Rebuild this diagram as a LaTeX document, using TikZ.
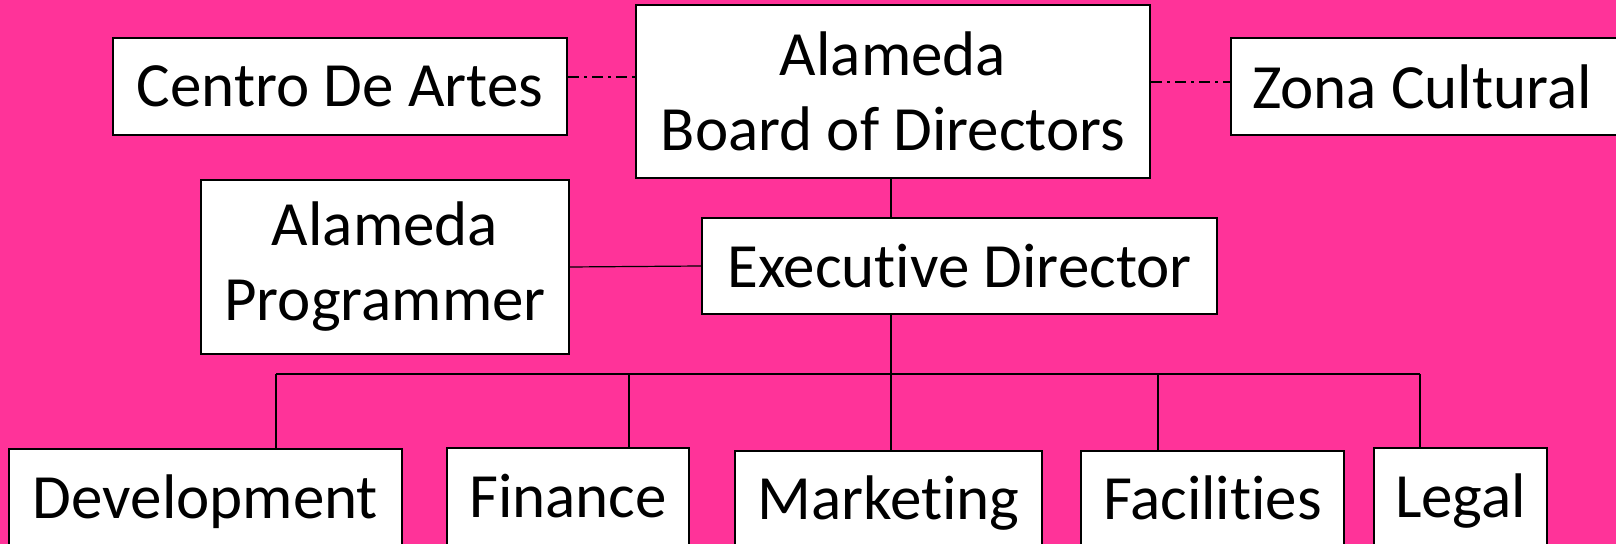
\documentclass[tikz,border=0pt]{standalone}
\usepackage{fontspec}
\setmainfont{Carlito}[Ligatures=NoCommon]
\definecolor{bgpink}{HTML}{FF3399}
\begin{document}
\begin{tikzpicture}[x=0.5pt,y=-0.5pt,
  box/.style={draw=black,fill=white,line width=1pt,inner sep=0pt,align=center,
    font=\fontsize{31.5}{37.5}\selectfont},
  lowbox/.style={box,anchor=north,minimum height=49pt,text height=20pt,text depth=0pt},
  link/.style={draw=black,line width=0.6pt},
  dashdot/.style={link,line width=1pt,dash pattern=on 5.5pt off 2.5pt on 1.5pt off 2.5pt}]
\useasboundingbox (0,0) rectangle (1616,544);
\clip (0,0) rectangle (1616,544);
\fill[bgpink] (0,0) rectangle (1616,544);

% top row
\node[box,minimum width=227pt,minimum height=48.5pt] (centro) at (340,86.5) {Centro De Artes};
\node[box,minimum width=257pt,minimum height=86.5pt] (board) at (893,91.5) {Alameda\\Board of Directors};
\node[box,minimum width=210pt,minimum height=48.5pt] (zona) at (1441,86.5) {Zona Cultural\kern19pt};

% middle row
\node[box,minimum width=184pt,minimum height=87pt] (prog) at (385,267) {Alameda\\Programmer};
\node[box,minimum width=257.5pt,minimum height=48pt] (exec) at (959.5,266) {Executive Director};

% bottom row
\node[lowbox,minimum width=196.5pt] (dev) at (205.5,448) {Development};
\node[lowbox,minimum width=121pt] (fin) at (568,447) {Finance};
\node[lowbox,minimum width=153.5pt] (mkt) at (888.5,450) {Marketing};
\node[lowbox,minimum width=131.5pt] (fac) at (1212.5,450) {Facilities};
\node[lowbox,minimum width=86.5pt] (legal) at (1460.5,447) {Legal};

% coordinates
\coordinate (ly) at (0,77);
\coordinate (ry) at (0,82);
\coordinate (b1) at (276,374);
\coordinate (b2) at (629,374);
\coordinate (b3) at (891,374);
\coordinate (b4) at (1158,374);
\coordinate (b5) at (1420,374);

% connectors
\draw[dashdot] (centro.east |- ly) -- (board.west |- ly);
\draw[dashdot] (board.east |- ry) -- (zona.west |- ry);
\draw[link] (board.south -| b3) -- (exec.north -| b3);
\draw[link] (prog.east) -- (exec.west);
\draw[link] (exec.south -| b3) -- (b3 |- mkt.north);
\draw[link] (b1) -- (b5);
\draw[link] (b1) -- (b1 |- dev.north);
\draw[link] (b2) -- (b2 |- fin.north);
\draw[link] (b4) -- (b4 |- fac.north);
\draw[link] (b5) -- (b5 |- legal.north);
\end{tikzpicture}
\end{document}
